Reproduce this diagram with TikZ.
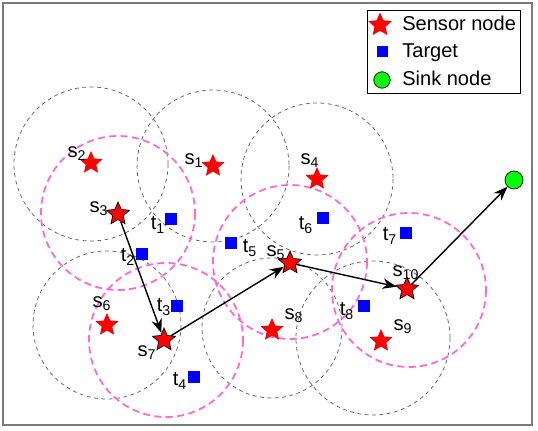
\documentclass[tikz,border=0pt]{standalone}
\usepackage{fontspec}
\setmainfont{Liberation Sans}
\usetikzlibrary{arrows.meta, shapes.geometric}
\definecolor{frame-line}{HTML}{7A7A7A}
\definecolor{sensor-red}{HTML}{FF0000}
\definecolor{target-blue}{HTML}{0000FF}
\definecolor{sink-green}{HTML}{00FF00}
\definecolor{range-gray}{HTML}{686868}
\definecolor{route-pink}{HTML}{FF66DD}
\tikzset{
  sensor/.style={
    star, star points=5, star point ratio=2.15, fill=sensor-red,
    inner sep=0pt, minimum size=0.48cm
  },
  relay/.style={sensor, draw=black, line width=0.4pt},
  target/.style={rectangle, fill=target-blue, inner sep=0pt, minimum size=0.24cm},
  sink/.style={circle, draw=black, fill=sink-green, inner sep=0pt,
    minimum size=0.36cm, line width=0.4pt},
  lbl/.style={font=\fontsize{11.5}{13}\selectfont, inner sep=0pt},
  keytext/.style={font=\fontsize{11.4}{13}\selectfont, inner sep=0pt, anchor=base west},
  sensrange/.style={draw=range-gray, dash pattern=on 2.2pt off 2pt, line width=0.45pt},
  cover/.style={draw=route-pink, dash pattern=on 4pt off 2.5pt, line width=1pt},
  hop/.style={-{Stealth[length=8pt, width=6pt, inset=2.5pt]}, line width=0.8pt}
}

\begin{document}
\begin{tikzpicture}[x=0.02cm, y=-0.02cm]
  \useasboundingbox (0,0) rectangle (538,431);
  \draw[frame-line, line width=0.9pt] (3,3) rectangle (532,425);

  % ---- Sensing ranges (gray) and ranges along the route (pink) -----------
  \foreach \x/\y/\r in {213/166/76, 91/164/77, 317/179/76,
                        107/325/74, 272/328/70, 373/338/77}
    \draw[sensrange] (\x,\y) circle[radius=\r];
  \foreach \x/\y in {118/213, 166/340, 290/262, 409/290}
    \draw[cover] (\x,\y) circle[radius=77];

  % ---- Sensors -----------------------------------------------------------
  \node[sensor] (s1)  at (213,166) {};
  \node[sensor] (s2)  at (91,163)  {};
  \node[relay]  (s3)  at (118,214) {};
  \node[sensor] (s4)  at (317,179) {};
  \node[relay]  (s5)  at (290,263) {};
  \node[sensor] (s6)  at (107,325) {};
  \node[relay]  (s7)  at (164,340) {};
  \node[sensor] (s8)  at (272,330) {};
  \node[sensor] (s9)  at (381,341) {};
  \node[relay]  (s10) at (407,289) {};

  \foreach \n/\x/\y in {1/194/161, 2/77/154, 3/99/209, 4/310/161, 5/276/253,
                        6/102/304, 7/147/353, 8/294/316, 9/403/327, 10/406/273}
    \node[lbl] (s\n-lbl) at (\x,\y) {s\textsubscript{\n}};

  % ---- Targets -----------------------------------------------------------
  \foreach \n/\x/\y in {1/171/219, 2/142/254, 3/177/306, 4/194/377,
                        5/231/243, 6/323/218, 7/406/233, 8/364/306}
    \node[target] (t\n) at (\x,\y) {};

  \foreach \n/\x/\y in {1/158/225, 2/128/257, 3/164/307, 4/180/381,
                        5/250/248, 6/306/225, 7/390/236, 8/347/311}
    \node[lbl] (t\n-lbl) at (\x,\y) {t\textsubscript{\n}};

  % ---- Sink and the route towards it -------------------------------------
  \node[sink] (sink) at (514,180) {};

  \draw[hop] (s3) -- (s7);
  \draw[hop] (s7) -- (s5);
  \draw[hop] (s5) -- (s10);
  \draw[hop] (s10) -- (sink);

  % ---- Legend ------------------------------------------------------------
  \draw[black, line width=0.5pt, fill=white] (367,10) rectangle (520,93);
  \node[sensor, minimum size=0.5cm] (key-sensor) at (380,25) {};
  \node[target, minimum size=0.22cm] (key-target) at (382,52) {};
  \node[sink, minimum size=0.33cm] (key-sink) at (382,80) {};
  \node[keytext] (key-sensor-txt) at (402,31) {Sensor node};
  \node[keytext] (key-target-txt) at (402,58) {Target};
  \node[keytext] (key-sink-txt) at (402,86) {Sink node};

\end{tikzpicture}
\end{document}
